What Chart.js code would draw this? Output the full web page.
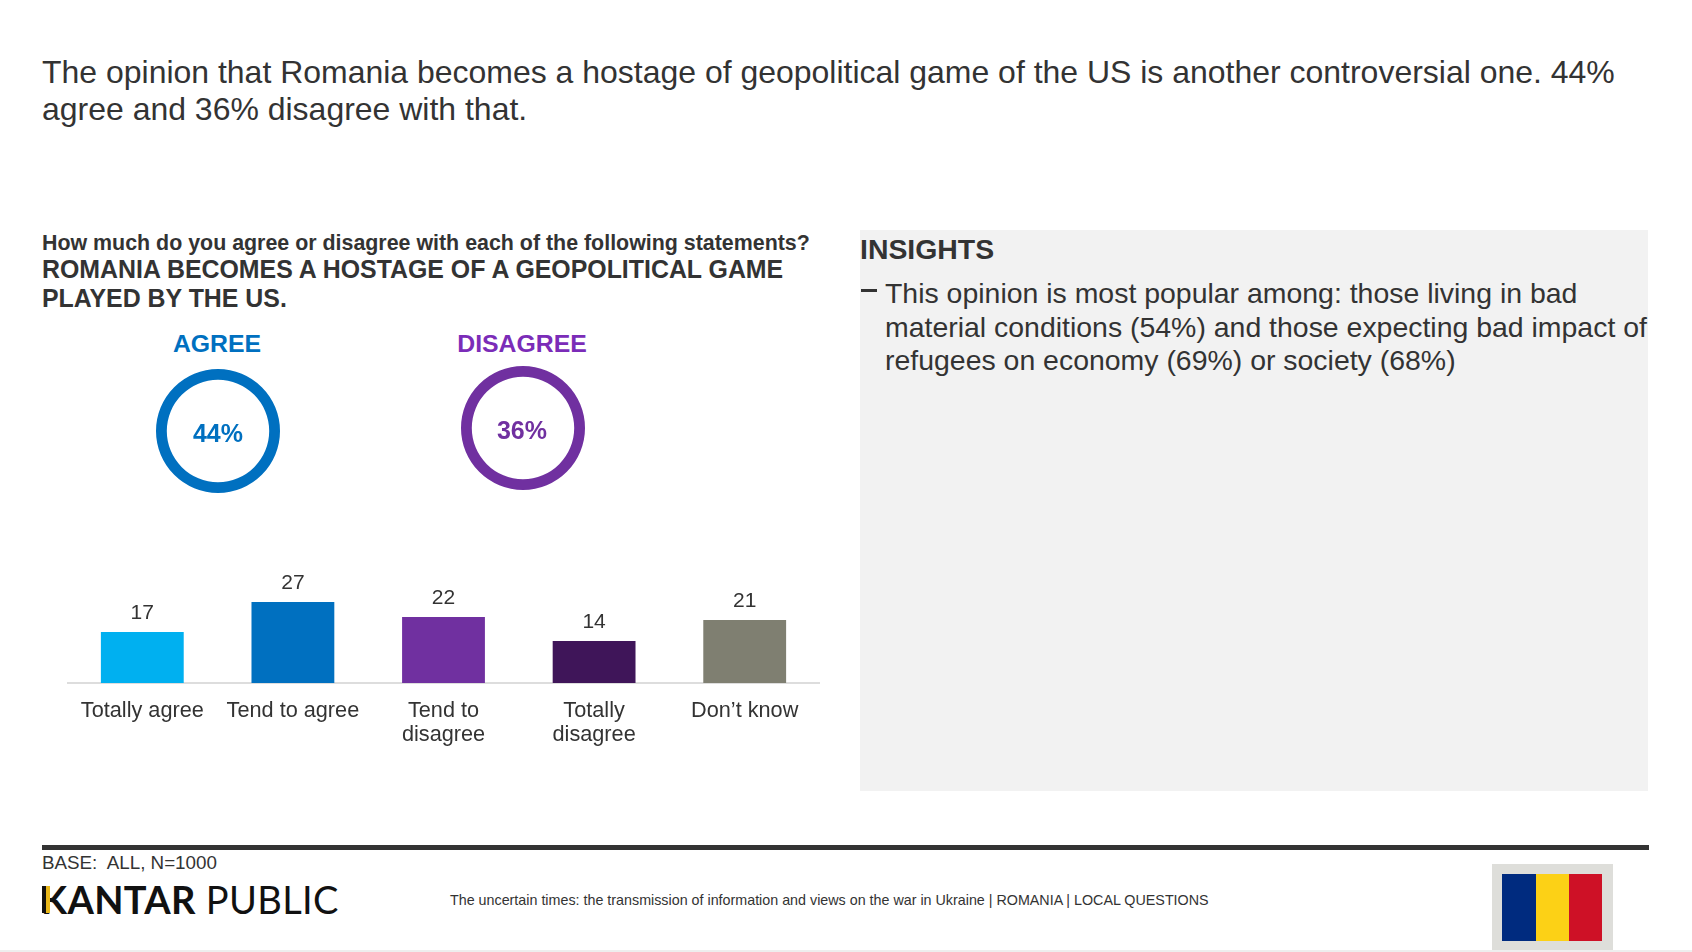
<!DOCTYPE html>
<html>
<head>
<meta charset="utf-8">
<title>Romania hostage opinion</title>
<script src="https://cdn.jsdelivr.net/npm/chart.js@4"></script>
<style>
  html, body { margin: 0; padding: 0; background: #fff; }
  body { width: 1692px; height: 952px; position: relative; overflow: hidden; font-family: "Liberation Sans", Arial, sans-serif; color: #333; }
  .t { position: absolute; white-space: nowrap; }
  .box { position: absolute; }
  canvas { position: absolute; }
</style>
</head>
<body>
<div class="t" style="left:42px;top:53.5px;font-size:31.97px;line-height:37px">The opinion that Romania becomes a hostage of geopolitical game of the US is another controversial one. 44%<br>agree and 36% disagree with that.</div>

<div class="t" style="left:42px;top:231px;font-size:21.4px;line-height:24px;font-weight:bold">How much do you agree or disagree with each of the following statements?</div>
<div class="t" style="left:42px;top:255px;font-size:24.9px;line-height:29px;font-weight:bold">ROMANIA BECOMES A HOSTAGE OF A GEOPOLITICAL GAME<br>PLAYED BY THE US.</div>

<div class="t" style="left:117px;width:200px;text-align:center;top:329px;font-size:24.8px;line-height:30px;font-weight:bold;color:#0070c0">AGREE</div>
<div class="t" style="left:422px;width:200px;text-align:center;top:329px;font-size:24.8px;line-height:30px;font-weight:bold;color:#7b2cb8">DISAGREE</div>

<canvas id="agreeRing" style="left:152px;top:365px"></canvas>
<canvas id="disagreeRing" style="left:457px;top:362px"></canvas>
<div class="t" style="left:118px;width:200px;text-align:center;top:418px;font-size:25px;line-height:30px;font-weight:bold;color:#0070c0">44%</div>
<div class="t" style="left:422px;width:200px;text-align:center;top:415px;font-size:25px;line-height:30px;font-weight:bold;color:#7030a0">36%</div>

<canvas id="barChart" style="left:67px;top:563px"></canvas>

<div class="box" style="left:860px;top:230px;width:788px;height:561px;background:#f2f2f2"></div>
<div class="t" style="left:860px;top:232px;font-size:28.4px;line-height:34px;font-weight:bold">INSIGHTS</div>
<div class="box" style="left:861px;top:289px;width:16px;height:3px;background:#333"></div>
<div class="t" style="left:885px;top:277px;font-size:28.45px;line-height:33.5px">This opinion is most popular among: those living in bad<br>material conditions (54%) and those expecting bad impact of<br>refugees on economy (69%) or society (68%)</div>

<div class="box" style="left:42px;top:845px;width:1607px;height:5px;background:#333"></div>
<div class="t" style="left:42px;top:851px;font-size:18.8px;line-height:24px">BASE:&nbsp; ALL, N=1000</div>
<div class="t" style="left:41px;top:877px;font-family:Lato,sans-serif;font-size:38px;line-height:44px;letter-spacing:0.35px;color:#111"><b>KANTAR</b> PUBLIC</div>
<div class="box" style="left:42px;top:886px;width:4px;height:27px;background:#111"></div>
<div class="box" style="left:46px;top:886px;width:4px;height:27px;background:#e8b71a"></div>
<div class="t" style="left:450px;top:891px;font-size:14.3px;line-height:18px">The uncertain times: the transmission of information and views on the war in Ukraine | ROMANIA | LOCAL QUESTIONS</div>

<div class="box" style="left:1492px;top:864px;width:121px;height:87px;background:#dededa"></div>
<div class="box" style="left:1502px;top:874px;width:33.5px;height:67px;background:#002b7f"></div>
<div class="box" style="left:1535.5px;top:874px;width:33.5px;height:67px;background:#fcd116"></div>
<div class="box" style="left:1569px;top:874px;width:33px;height:67px;background:#ce1126"></div>
<div class="box" style="left:0;top:950px;width:1692px;height:2px;background:#eee"></div>

<script>
const categories = [['Totally agree'], ['Tend to agree'], ['Tend to', 'disagree'], ['Totally', 'disagree'], ['Don\u2019t know']];
const shares = [17, 27, 22, 14, 21];
const barColors = ['#00b0f0', '#0070c0', '#7030a0', '#3f1559', '#7f7f71'];
const agreeTotal = [44];
const disagreeTotal = [36];

Chart.defaults.font.family = '"Liberation Sans", Arial, sans-serif';
Chart.defaults.color = '#333';
Chart.defaults.animation = false;
Chart.defaults.responsive = false;

// value above each bar
const barValues = {
    id: 'barValues',
    afterDatasetsDraw(chart) {
        const ctx = chart.ctx;
        ctx.save();
        ctx.font = '21px "Liberation Sans", Arial, sans-serif';
        ctx.fillStyle = '#333';
        ctx.textAlign = 'center';
        ctx.textBaseline = 'middle';
        chart.getDatasetMeta(0).data.forEach(function (bar, i) {
            ctx.fillText(shares[i], bar.x, bar.y - 19);
        });
        ctx.restore();
    }
};

const barCanvas = document.getElementById('barChart');
barCanvas.width = 753;
barCanvas.height = 207;
new Chart(barCanvas, {
    type: 'bar',
    data: {
        labels: categories,
        datasets: [{ data: shares, backgroundColor: barColors, barPercentage: 0.55, categoryPercentage: 1 }]
    },
    options: {
        layout: { padding: 0 },
        plugins: { legend: { display: false }, tooltip: { enabled: false } },
        scales: {
            x: {
                grid: { display: false },
                border: { color: '#ddd', width: 2 },
                ticks: { font: { size: 21.7, lineHeight: 1.1 }, color: '#333', padding: 8, maxRotation: 0, autoSkip: false },
                afterFit(scale) { scale.height = 87; }
            },
            y: { display: false, min: 0, max: 40 }
        }
    },
    plugins: [barValues]
});

function ring(id, values, color) {
    const canvas = document.getElementById(id);
    canvas.width = 132;
    canvas.height = 132;
    new Chart(canvas, {
        type: 'doughnut',
        data: { labels: [id], datasets: [{ data: values, backgroundColor: [color], borderWidth: 0 }] },
        options: {
            cutout: 54.5,
            radius: 62,
            plugins: { legend: { display: false }, tooltip: { enabled: false } }
        }
    });
}
ring('agreeRing', agreeTotal, '#0070c0');
ring('disagreeRing', disagreeTotal, '#7030a0');
</script>
</body>
</html>
